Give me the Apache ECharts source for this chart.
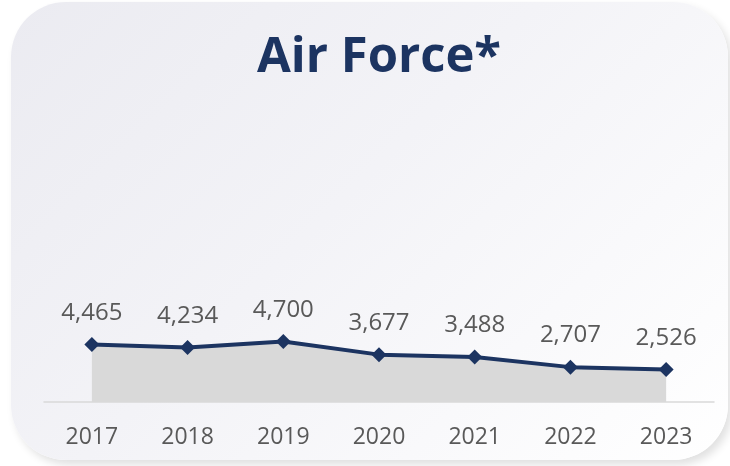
<!DOCTYPE html>
<html>
<head>
<meta charset="utf-8">
<script src="https://cdn.jsdelivr.net/npm/echarts@6/dist/echarts.min.js"></script>
<style>
  html, body { margin: 0; padding: 0; background: #ffffff; }
  #card {
    position: absolute; left: 11px; top: 2px; width: 717px; height: 458px;
    border-radius: 55px;
    background: linear-gradient(135deg, #ebebf1 0%, #f3f3f7 45%, #ffffff 100%);
    box-shadow: 4px 5px 8px rgba(0,0,0,0.12);
  }
  #main { position: absolute; left: 0; top: 0; width: 730px; height: 466px; }
</style>
</head>
<body>
<div id="card"></div>
<div id="main"></div>
<script>
// data
var years = ['2017', '2018', '2019', '2020', '2021', '2022', '2023'];
var counts = [4465, 4234, 4700, 3677, 3488, 2707, 2526];

var chart = echarts.init(document.getElementById('main'), null, { renderer: 'canvas' });

var option = {
  backgroundColor: 'transparent',
  animation: false,
  title: {
    text: 'Air Force*',
    left: 252,
    top: 29,
    textStyle: {
      fontFamily: 'Open Sans',
      fontWeight: 'bold',
      fontSize: 49,
      color: '#1c3461'
    }
  },
  grid: {
    left: 44,
    right: 16,
    top: 80,
    bottom: 64
  },
  xAxis: {
    type: 'category',
    data: years,
    boundaryGap: true,
    axisLine: { lineStyle: { color: '#d9d9d9', width: 1.5 } },
    axisTick: { show: false },
    axisLabel: {
      fontFamily: 'Open Sans',
      fontSize: 23,
      color: '#595959',
      margin: 24
    }
  },
  yAxis: {
    type: 'value',
    min: 0,
    max: 25000,
    show: false
  },
  series: [{
    type: 'line',
    data: counts,
    symbol: 'diamond',
    symbolSize: 15,
    lineStyle: { color: '#1c3461', width: 4 },
    itemStyle: { color: '#1c3461' },
    areaStyle: { color: '#d9d9d9', opacity: 1 },
    label: {
      show: true,
      position: 'top',
      distance: 12,
      fontFamily: 'Open Sans',
      fontSize: 24,
      color: '#595959',
      formatter: function (p) { return p.value.toLocaleString('en-US'); }
    }
  }]
};

chart.setOption(option);
</script>
</body>
</html>
